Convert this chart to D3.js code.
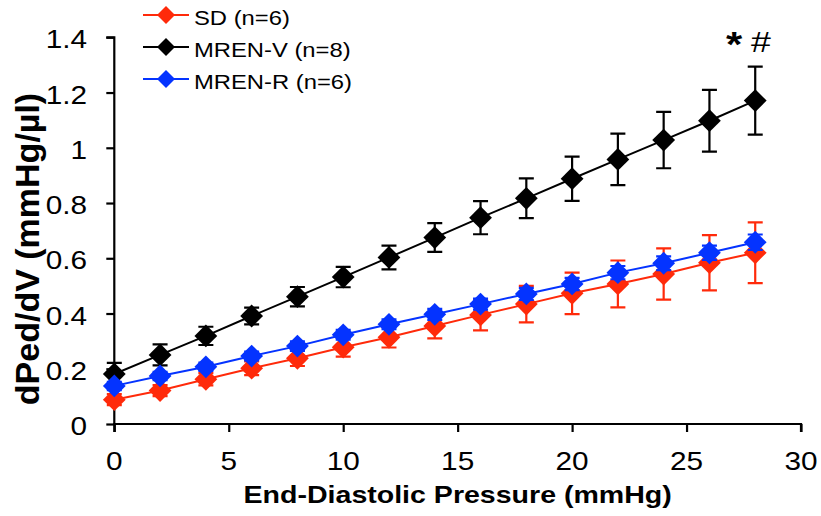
<!DOCTYPE html>
<html>
<head>
<meta charset="utf-8">
<script src="https://cdn.jsdelivr.net/npm/d3@7"></script>
<style>
  html, body { margin: 0; padding: 0; background: #fff; }
  svg { display: block; }
  text { font-family: "Liberation Sans", Arial, Helvetica, sans-serif; fill: #000; }
</style>
</head>
<body>
<svg id="chart" width="821" height="516"></svg>
<script>
// End-diastolic pressure steps (mmHg)
const pressure = [0, 2, 4, 6, 8, 10, 12, 14, 16, 18, 20, 22, 24, 26, 28];

// dPed/dV means and SEM per group
const sdMean   = [0.088, 0.121, 0.162, 0.202, 0.238, 0.278, 0.314, 0.355, 0.395, 0.434, 0.473, 0.507, 0.543, 0.584, 0.620];
const sdSem    = [0.020, 0.020, 0.022, 0.025, 0.028, 0.034, 0.037, 0.045, 0.056, 0.066, 0.075, 0.085, 0.093, 0.100, 0.110];
const mrenVMean = [0.181, 0.250, 0.319, 0.391, 0.461, 0.532, 0.603, 0.675, 0.747, 0.817, 0.888, 0.958, 1.028, 1.098, 1.171];
const mrenVSem  = [0.040, 0.038, 0.033, 0.030, 0.035, 0.037, 0.043, 0.052, 0.060, 0.072, 0.080, 0.093, 0.102, 0.112, 0.123];
const mrenRMean = [0.138, 0.174, 0.207, 0.246, 0.282, 0.323, 0.361, 0.397, 0.434, 0.471, 0.507, 0.548, 0.582, 0.620, 0.658];
const mrenRSem  = [0.015, 0.015, 0.015, 0.016, 0.017, 0.018, 0.018, 0.020, 0.020, 0.022, 0.022, 0.024, 0.025, 0.026, 0.028];

const seriesNames  = ["SD (n=6)", "MREN-V (n=8)", "MREN-R (n=6)"];
const seriesColors = ["#ff2a0a", "#000000", "#0433ff"];

const xTicks = [0, 5, 10, 15, 20, 25, 30];
const xTickLabels = ["0", "5", "10", "15", "20", "25", "30"];
const yTicks = [0, 0.2, 0.4, 0.6, 0.8, 1.0, 1.2, 1.4];
const yTickLabels = ["0", "0.2", "0.4", "0.6", "0.8", "1", "1.2", "1.4"];

const xTitle = "End-Diastolic Pressure (mmHg)";
const yTitle = "dPed/dV (mmHg/\u00b5l)";
const significance = ["*", "#"];

// Build series records from the arrays above
const series = seriesNames.map((name, i) => ({
  name,
  color: seriesColors[i],
  values: pressure.map((p, j) => ({
    x: p,
    y: [sdMean, mrenVMean, mrenRMean][i][j],
    e: [sdSem, mrenVSem, mrenRSem][i][j]
  }))
}));

const svg = d3.select("#chart");
const stretch = 1.19;   // horizontal glyph stretch used for the chart's lettering

const x = d3.scaleLinear().domain([0, 30]).range([114.3, 801]);
const y = d3.scaleLinear().domain([0, 1.4]).range([424, 37.3]);

// Axes
const xAxis = d3.axisBottom(x).tickValues(xTicks).tickSize(8).tickFormat("");
const yAxis = d3.axisLeft(y).tickValues(yTicks).tickSize(8).tickFormat("");

const gx = svg.append("g").attr("transform", `translate(0,${y(0)})`).call(xAxis);
const gy = svg.append("g").attr("transform", `translate(${x(0)},0)`).call(yAxis);
[gx, gy].forEach(g => {
  g.select(".domain").attr("stroke", "#000").attr("stroke-width", 2.2);
  g.selectAll(".tick line").attr("stroke", "#000").attr("stroke-width", 2.2);
});
gx.select(".domain").attr("d", `M${x(0)},8V0H${x(30)}V8`);
gy.select(".domain").attr("d", `M-8,${y(1.4)}H0V${y(0)}`);

// Tick labels
svg.append("g").selectAll("text").data(xTicks).join("text")
  .attr("transform", d => `translate(${x(d)},470) scale(${stretch},1)`)
  .attr("text-anchor", "middle")
  .attr("font-size", 25)
  .text((d, i) => xTickLabels[i]);

svg.append("g").selectAll("text").data(yTicks).join("text")
  .attr("transform", d => `translate(87,${y(d) + 11}) scale(${stretch},1)`)
  .attr("text-anchor", "end")
  .attr("font-size", 25)
  .text((d, i) => yTickLabels[i]);

// Axis titles
svg.append("text")
  .attr("transform", `translate(${(x(0) + x(30)) / 2},503) scale(${stretch},1)`)
  .attr("text-anchor", "middle")
  .attr("font-size", 24)
  .attr("font-weight", "bold")
  .text(xTitle);

svg.append("text")
  .attr("transform", `translate(39,249) rotate(-90)`)
  .attr("text-anchor", "middle")
  .attr("font-size", 34)
  .attr("font-weight", "bold")
  .text(yTitle);

// Series: line, error bars, diamond markers
const line = d3.line().x(d => x(d.x)).y(d => y(d.y));
const diamond = (cx, cy, r) => `M${cx},${cy - r}L${cx + r},${cy}L${cx},${cy + r}L${cx - r},${cy}Z`;
const cap = 7.5;

series.forEach(s => {
  const g = svg.append("g");
  g.append("path").datum(s.values)
    .attr("d", line).attr("fill", "none")
    .attr("stroke", s.color).attr("stroke-width", 2);

  g.append("g").selectAll("path").data(s.values).join("path")
    .attr("d", d => {
      const x0 = x(d.x), yt = y(d.y + d.e), yb = y(d.y - d.e);
      return `M${x0},${yt}V${yb}M${x0 - cap},${yt}H${x0 + cap}M${x0 - cap},${yb}H${x0 + cap}`;
    })
    .attr("fill", "none").attr("stroke", s.color).attr("stroke-width", 2.2);

  g.append("g").selectAll("path").data(s.values).join("path")
    .attr("d", d => diamond(x(d.x), y(d.y), 11.4))
    .attr("fill", s.color);
});

// Significance marks over the last MREN-V point
const last = series[1].values[series[1].values.length - 1];
const markBase = y(last.y + last.e);
svg.append("text")
  .attr("transform", `translate(734,${markBase - 11}) scale(${stretch},1)`)
  .attr("text-anchor", "middle")
  .attr("font-size", 35)
  .attr("font-weight", "bold")
  .text(significance[0]);
svg.append("text")
  .attr("transform", `translate(761,${markBase - 15}) scale(${stretch},1)`)
  .attr("text-anchor", "middle")
  .attr("font-size", 30)
  .text(significance[1]);

// Legend
const legendY = [15, 47, 79];
const lg = svg.append("g");
series.forEach((s, i) => {
  const ly = legendY[i];
  lg.append("line").attr("x1", 143).attr("x2", 189).attr("y1", ly).attr("y2", ly)
    .attr("stroke", s.color).attr("stroke-width", 2);
  lg.append("path").attr("d", diamond(166, ly, 9)).attr("fill", s.color);
  lg.append("text")
    .attr("transform", `translate(194,${ly + 9.5}) scale(${stretch},1)`)
    .attr("font-size", 20)
    .text(s.name);
});
</script>
</body>
</html>
